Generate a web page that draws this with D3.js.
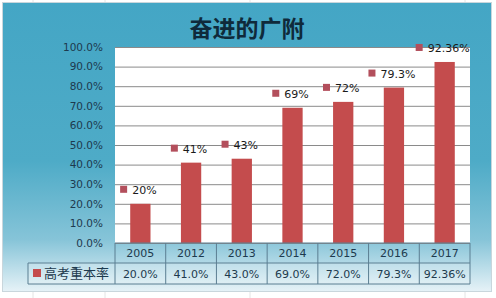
<!DOCTYPE html>
<html>
<head>
  <meta http-equiv="Content-Type" content="text/html;charset=utf-8" />
  <style type="text/css">
    body { margin: 0; background: #fff; }
    text { font-family: "DejaVu Sans", sans-serif; }
  </style>
</head>
<body>
  <div id="svgContainer"></div>
  <script src="https://d3js.org/d3.v7.min.js"></script>
  <script type="text/javascript">
    var years = ["2005", "2012", "2013", "2014", "2015", "2016", "2017"];
    var rates = [20, 41, 43, 69, 72, 79.3, 92.36];
    var barLabels = ["20%", "41%", "43%", "69%", "72%", "79.3%", "92.36%"];
    var tableLabels = ["20.0%", "41.0%", "43.0%", "69.0%", "72.0%", "79.3%", "92.36%"];
    var yTicks = [0, 10, 20, 30, 40, 50, 60, 70, 80, 90, 100];
    var seriesName = "高考重本率";
    var title = "奋进的广附";

    var w = 496, h = 298;
    // plot area bounds (note: "top" is reserved by window, so use plot* names)
    var plotL = 115, plotR = 470, plotT = 47, plotB = 243;

    var svg = d3.select("#svgContainer")
      .append("svg")
      .attr("width", w)
      .attr("height", h);

    // faint spreadsheet lines behind the chart
    svg.selectAll("line.sheet")
      .data([33, 105, 250, 465])
      .enter().append("line")
      .attr("x1", function (d) { return d; }).attr("x2", function (d) { return d; })
      .attr("y1", 0).attr("y2", h)
      .attr("stroke", "#e4e4e4");

    var defs = svg.append("defs");
    var grad = defs.append("linearGradient")
      .attr("id", "panel").attr("x1", 0).attr("y1", 0).attr("x2", 0).attr("y2", 1);
    grad.append("stop").attr("offset", "0%").attr("stop-color", "#44a6c5");
    grad.append("stop").attr("offset", "55%").attr("stop-color", "#4eabc7");
    grad.append("stop").attr("offset", "82%").attr("stop-color", "#86c4d8");
    grad.append("stop").attr("offset", "100%").attr("stop-color", "#e6f2f7");

    svg.append("rect")
      .attr("x", 2.5).attr("y", 2.5)
      .attr("width", 489).attr("height", 289)
      .attr("fill", "url(#panel)")
      .attr("stroke", "#c9d6dc");

    // title
    svg.append("text")
      .attr("x", 247).attr("y", 37)
      .attr("text-anchor", "middle")
      .style("font-family", "'Noto Sans CJK SC', sans-serif")
      .style("font-weight", "bold")
      .style("font-size", "23px")
      .attr("fill", "#0f2a3b")
      .text(title);

    var x = d3.scaleBand().domain(years).range([plotL, plotR]).paddingInner(0.6).paddingOuter(0.3);
    var col = d3.scaleBand().domain(years).range([plotL, plotR]).padding(0);
    var y = d3.scaleLinear().domain([0, 100]).range([plotB, plotT]);

    // plot area
    svg.append("rect")
      .attr("x", plotL).attr("y", plotT)
      .attr("width", plotR - plotL).attr("height", plotB - plotT)
      .attr("fill", "#ffffff");

    var yAxis = d3.axisLeft(y)
      .tickValues(yTicks)
      .tickSize(-(plotR - plotL))
      .tickPadding(12)
      .tickFormat(function (d) { return d.toFixed(1) + "%"; });

    var ga = svg.append("g")
      .attr("transform", "translate(" + plotL + ",0)")
      .call(yAxis);
    ga.select(".domain").remove();
    ga.selectAll(".tick line").attr("stroke", "#8a8a8a");
    ga.selectAll(".tick text")
      .attr("fill", "#1d3a4e")
      .style("font-size", "10.5px");

    // bars
    svg.selectAll("rect.bar")
      .data(rates)
      .enter().append("rect")
      .attr("class", "bar")
      .attr("x", function (d, i) { return x(years[i]); })
      .attr("y", function (d) { return y(d); })
      .attr("width", x.bandwidth())
      .attr("height", function (d) { return plotB - y(d); })
      .attr("fill", "#c44c4d");

    // data labels with legend key
    var lab = svg.selectAll("g.lab")
      .data(rates)
      .enter().append("g")
      .attr("class", "lab")
      .attr("transform", function (d, i) {
        return "translate(" + (x(years[i]) + x.bandwidth() / 2) + "," + (y(d) - 14) + ")";
      });
    lab.append("text")
      .attr("x", 4).attr("y", 4)
      .attr("text-anchor", "middle")
      .attr("fill", "#1a1a1a")
      .style("font-size", "11px")
      .text(function (d, i) { return barLabels[i]; });
    lab.each(function () {
      var t = d3.select(this).select("text");
      var bb = t.node().getBBox();
      d3.select(this).append("rect")
        .attr("x", bb.x - 12).attr("y", -4)
        .attr("width", 7).attr("height", 7)
        .attr("fill", "#b34f5c");
    });

    // data table
    var row1 = plotB, row2 = 263, row3 = 284, tableLeft = 28;
    var lineColor = "#5b7e92";
    svg.append("rect")
      .attr("x", tableLeft).attr("y", row2)
      .attr("width", plotR - tableLeft).attr("height", row3 - row2)
      .attr("fill", "#ffffff").attr("fill-opacity", 0.18);

    var tl = svg.append("g").attr("stroke", lineColor).attr("fill", "none");
    tl.append("line").attr("x1", plotL).attr("x2", plotR).attr("y1", row1).attr("y2", row1);
    tl.append("line").attr("x1", tableLeft).attr("x2", plotR).attr("y1", row2).attr("y2", row2);
    tl.append("line").attr("x1", tableLeft).attr("x2", plotR).attr("y1", row3).attr("y2", row3);
    tl.append("line").attr("x1", tableLeft).attr("x2", tableLeft).attr("y1", row2).attr("y2", row3);
    tl.selectAll("line.v")
      .data(years.concat(["end"]))
      .enter().append("line")
      .attr("x1", function (d, i) { return i < years.length ? col(d) : plotR; })
      .attr("x2", function (d, i) { return i < years.length ? col(d) : plotR; })
      .attr("y1", row1).attr("y2", row3);

    svg.selectAll("text.year")
      .data(years)
      .enter().append("text")
      .attr("x", function (d) { return col(d) + col.bandwidth() / 2; })
      .attr("y", row1 + 14)
      .attr("text-anchor", "middle")
      .attr("fill", "#1d3a4e")
      .style("font-size", "11px")
      .text(function (d) { return d; });

    svg.selectAll("text.val")
      .data(tableLabels)
      .enter().append("text")
      .attr("x", function (d, i) { return col(years[i]) + col.bandwidth() / 2; })
      .attr("y", row2 + 15)
      .attr("text-anchor", "middle")
      .attr("fill", "#1d3a4e")
      .style("font-size", "11px")
      .text(function (d) { return d; });

    svg.append("rect")
      .attr("x", 33).attr("y", 269)
      .attr("width", 8).attr("height", 8)
      .attr("fill", "#c44c4d");
    svg.append("text")
      .attr("x", 44).attr("y", 278)
      .style("font-family", "'Noto Sans CJK SC', sans-serif")
      .style("font-size", "13px")
      .attr("fill", "#1d3a4e")
      .text(seriesName);
  </script>
</body>
</html>
